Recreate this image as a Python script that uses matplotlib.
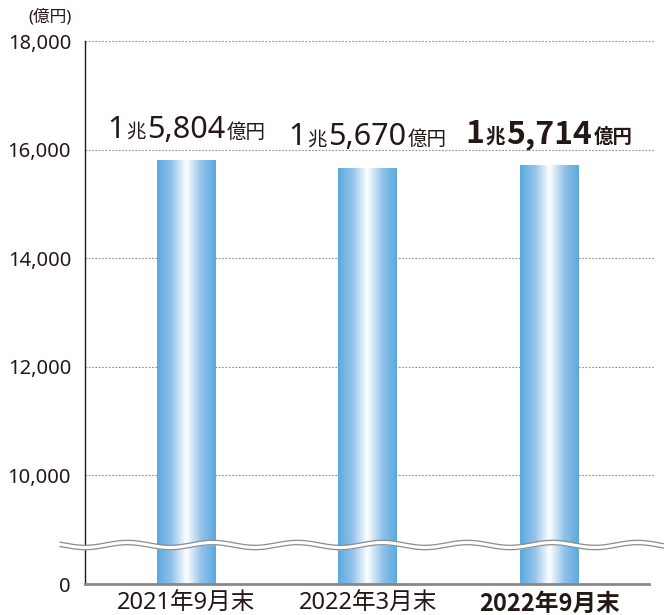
import matplotlib
matplotlib.use('Agg')
import matplotlib.pyplot as plt
import numpy as np
from matplotlib.colors import LinearSegmentedColormap
from matplotlib.offsetbox import TextArea, HPacker, AnnotationBbox
import matplotlib.transforms as mtransforms

plt.rcParams['font.family'] = ['Noto Sans', 'Noto Sans CJK JP', 'DejaVu Sans']
bold_family = ['Noto Sans CJK JP', 'DejaVu Sans']

# data
periods = ['2021年9月末', '2022年3月末', '2022年9月末']
values = [15804, 15670, 15714]          # 億円
ytick_vals = [8000, 10000, 12000, 14000, 16000, 18000]
ytick_labels = ['0', '10,000', '12,000', '14,000', '16,000', '18,000']
y_break = 8000      # axis bottom stands for 0

txt_color = '#231815'
blue = '#5aa8df'

fig = plt.figure(figsize=(6.64, 6.15), dpi=100)
ax = fig.add_axes([85 / 664, 1 - 584 / 615, 570 / 664, 543 / 615])

x = np.arange(len(values))
ax.set_xlim(-0.559, 2.584)
ax.set_ylim(y_break, 18000)

# gradient bars
cmap = LinearSegmentedColormap.from_list(
    'bar', [(0, blue), (0.25, '#93c3ea'), (0.5, '#ffffff'), (0.75, '#93c3ea'), (1, blue)])
grad = np.linspace(0, 1, 256).reshape(1, -1)
bars = ax.bar(x, np.array(values) - y_break, bottom=y_break, width=0.325,
              facecolor='none', edgecolor='none', zorder=2)
for b in bars:
    im = ax.imshow(grad, cmap=cmap, aspect='auto', zorder=2,
                   extent=[b.get_x(), b.get_x() + b.get_width(), y_break, b.get_y() + b.get_height()])
    im.set_clip_path(b)

# value labels with mixed sizes
for i, v in enumerate(values):
    last = i == len(values) - 1
    big = dict(color=txt_color, fontsize=22)
    small = dict(color=txt_color, fontsize=14)
    if last:
        big.update(fontweight='bold', family=bold_family, fontsize=23)
        small.update(fontweight='bold', family=bold_family)
    parts = [TextArea(str(v // 10000), textprops=big),
             TextArea('兆', textprops=small),
             TextArea(f'{v % 10000:,}', textprops=big),
             TextArea('億円', textprops=small)]
    box = HPacker(children=parts, align='baseline', pad=0, sep=1)
    ab = AnnotationBbox(box, (x[i], v), xybox=(0, 11), xycoords='data',
                        boxcoords='offset points', box_alignment=(0.5, 0),
                        frameon=False, zorder=5)
    ax.add_artist(ab)

# axes styling
ax.set_yticks(ytick_vals)
ax.set_yticklabels(ytick_labels, fontsize=14.5, color=txt_color)
ax.set_xticks(x)
ax.set_xticklabels(periods, fontsize=17, color=txt_color)
ax.get_xticklabels()[-1].set_fontweight('bold')
ax.get_xticklabels()[-1].set_family(bold_family)
ax.tick_params(axis='both', length=0)
ax.tick_params(axis='y', pad=10)
ax.tick_params(axis='x', pad=6)
for t in ytick_vals[1:]:
    ax.axhline(t, color='#8c8c8c', lw=0.8, ls=(0, (1.5, 1.5)), zorder=1)
for s in ['top', 'right']:
    ax.spines[s].set_visible(False)
ax.spines['left'].set_color('#231815')
ax.spines['left'].set_linewidth(1.0)
ax.spines['bottom'].set_color('#888888')
ax.spines['bottom'].set_linewidth(2.0)
ax.spines['bottom'].set_bounds(-0.559, 2.55)

# axis break (wave)
trans = mtransforms.blended_transform_factory(ax.transAxes, ax.transData)
px = np.linspace(60, 664, 600)
xf = (px - 85) / 570
dy_per_px = (18000 - y_break) / 543
yc = y_break + 39 * dy_per_px
wave = -2.5 * dy_per_px * np.cos(2 * np.pi * (px - 85) / 85)
half = 2.2 * dy_per_px
ax.fill_between(xf, yc + wave - half, yc + wave + half, color='white',
                transform=trans, clip_on=False, zorder=6, lw=0)
ax.plot(xf, yc + wave - half, color='#8c8c8c', lw=0.9, transform=trans, clip_on=False, zorder=7)
ax.plot(xf, yc + wave + half, color='#8c8c8c', lw=0.9, transform=trans, clip_on=False, zorder=7)

fig.text(50 / 664, 1 - 17 / 615, '(億円)', fontsize=12, color=txt_color, ha='center', va='center')

fig.savefig('out.png', dpi=100)
